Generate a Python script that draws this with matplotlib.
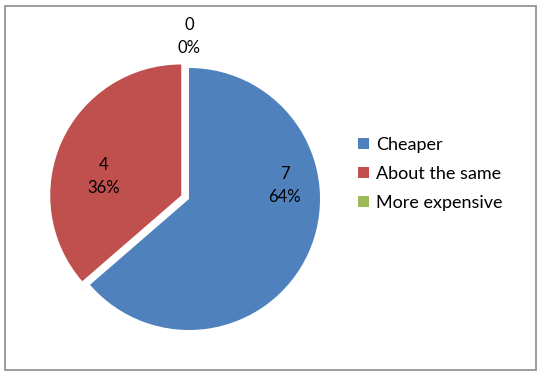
import matplotlib.pyplot as plt
from matplotlib.patches import Rectangle

categories = ['Cheaper', 'About the same', 'More expensive']
counts = [7, 4, 0]
explode = [0, 0.065, 0]
colors = ['#4F81BD', '#C0504D', '#9BBB59']

# where each "count / percent" label sits, in pie radii from the centre
label_pos = [(0.73, 0.10), (-0.65, 0.17), (0.0, 1.24)]

plt.rcParams['font.family'] = ['Lato', 'DejaVu Sans']

fig = plt.figure(figsize=(5.39, 3.72), dpi=100)
W, H = 539, 372

# pie axes: centre at (189, 199) px from top-left, radius 131 px
cx, cy, r = 189, 199, 131
lim = 1.3
side = 2 * lim * r
ax = fig.add_axes([(cx - side / 2) / W, (H - cy - side / 2) / H, side / W, side / H])
wedges, _ = ax.pie(counts, colors=colors, explode=explode, startangle=90,
                   counterclock=False, radius=1.0,
                   wedgeprops=dict(linewidth=0))
ax.set_xlim(-lim, lim)
ax.set_ylim(-lim, lim)
ax.set_aspect('equal')
ax.axis('off')

total = sum(counts)
for c, (x, y) in zip(counts, label_pos):
    ax.text(x, y, f"{c}\n{c / total:.0%}", ha='center', va='center',
            fontsize=12, color='black', linespacing=1.55)

leg = fig.legend(wedges, categories, loc='upper left',
                 bbox_to_anchor=(349 / W, 1 - 128 / H), frameon=False,
                 fontsize=13, handlelength=0.58, handleheight=0.58,
                 handletextpad=0.4, labelspacing=0.72, borderpad=0)

# outer chart border
fig.patches.append(Rectangle((5 / W, 2 / H), 531 / W, 364 / H,
                             transform=fig.transFigure, fill=False,
                             edgecolor='#8C8C8C', linewidth=1.2))

fig.savefig('out.png', dpi=100)
